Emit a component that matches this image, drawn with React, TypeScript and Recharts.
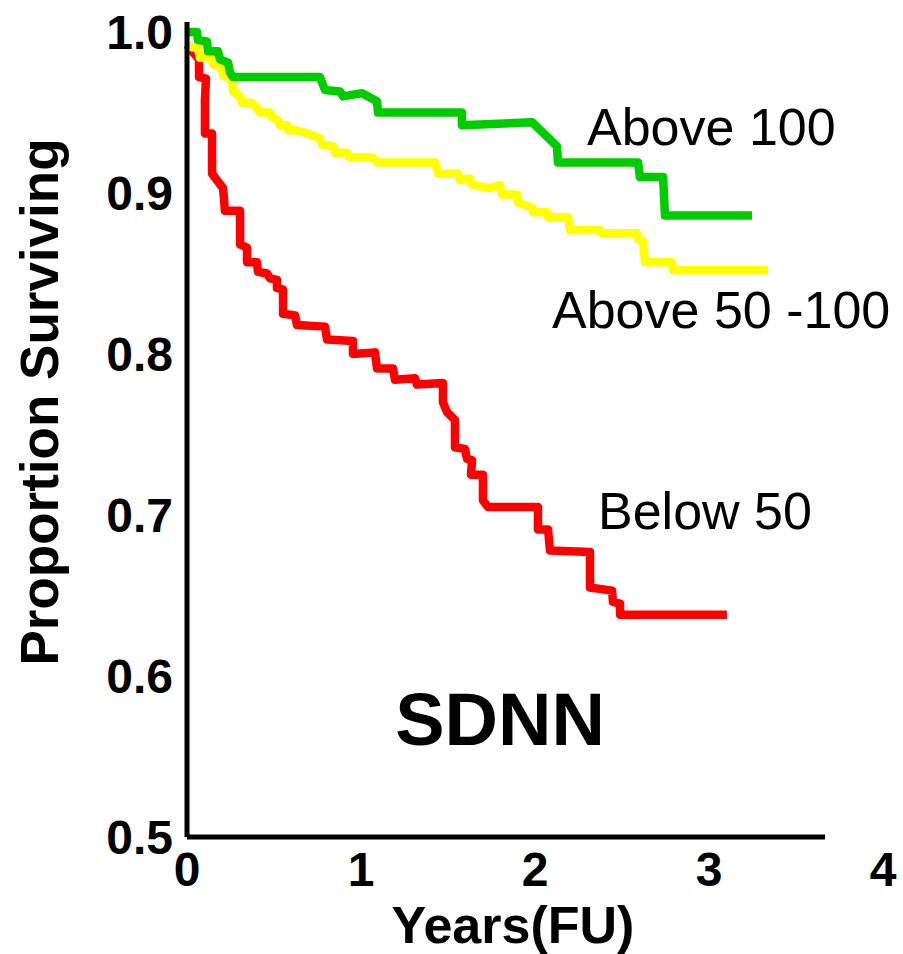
import { LineChart, Line, XAxis, YAxis, ReferenceLine } from "recharts";

// Kaplan-Meier style curves (years, proportion surviving)
const ABOVE_100_X = [0, 0.057, 0.063, 0.115, 0.121, 0.178, 0.19, 0.236, 0.247, 0.264, 0.764, 0.793, 0.879, 0.897, 1.006, 1.092, 1.098, 1.58, 1.58, 1.983, 2.126, 2.132, 2.592, 2.603, 2.736, 2.747, 3.247];
const ABOVE_100_Y = [1.0, 1.0, 0.995, 0.994, 0.988, 0.988, 0.983, 0.981, 0.975, 0.972, 0.972, 0.964, 0.963, 0.96, 0.962, 0.957, 0.95, 0.95, 0.942, 0.944, 0.929, 0.919, 0.919, 0.91, 0.91, 0.886, 0.886];

const MID_X = [0, 0.063, 0.075, 0.144, 0.149, 0.201, 0.207, 0.259, 0.264, 0.305, 0.316, 0.374, 0.42, 0.477, 0.489, 0.523, 0.534, 0.575, 0.58, 0.621, 0.69, 0.764, 0.776, 0.839, 0.851, 0.92, 0.937, 1.069, 1.092, 1.425, 1.443, 1.557, 1.569, 1.626, 1.638, 1.741, 1.799, 1.81, 1.897, 1.902, 1.983, 1.989, 2.069, 2.075, 2.19, 2.201, 2.374, 2.385, 2.586, 2.592, 2.621, 2.632, 2.787, 2.793, 3.339];
const MID_Y = [0.991, 0.99, 0.984, 0.984, 0.98, 0.978, 0.973, 0.971, 0.963, 0.96, 0.956, 0.956, 0.95, 0.95, 0.947, 0.945, 0.942, 0.942, 0.939, 0.939, 0.937, 0.934, 0.93, 0.929, 0.925, 0.925, 0.922, 0.922, 0.919, 0.919, 0.912, 0.912, 0.908, 0.909, 0.905, 0.903, 0.905, 0.899, 0.899, 0.894, 0.891, 0.888, 0.888, 0.885, 0.885, 0.877, 0.877, 0.875, 0.875, 0.871, 0.87, 0.857, 0.857, 0.852, 0.852];

const BELOW_50_X = [0, 0.046, 0.069, 0.069, 0.109, 0.103, 0.103, 0.144, 0.144, 0.172, 0.207, 0.218, 0.305, 0.305, 0.345, 0.345, 0.402, 0.408, 0.46, 0.477, 0.517, 0.517, 0.552, 0.552, 0.621, 0.632, 0.793, 0.805, 0.954, 0.954, 1.08, 1.092, 1.184, 1.195, 1.31, 1.322, 1.471, 1.471, 1.494, 1.54, 1.54, 1.598, 1.609, 1.638, 1.632, 1.701, 1.701, 1.73, 2.017, 2.017, 2.075, 2.086, 2.316, 2.316, 2.443, 2.448, 2.489, 2.489, 3.103];
const BELOW_50_Y = [0.992, 0.986, 0.983, 0.972, 0.971, 0.958, 0.937, 0.937, 0.912, 0.908, 0.903, 0.889, 0.889, 0.868, 0.866, 0.857, 0.857, 0.851, 0.85, 0.847, 0.846, 0.841, 0.84, 0.825, 0.824, 0.818, 0.817, 0.809, 0.808, 0.8, 0.801, 0.791, 0.791, 0.784, 0.785, 0.781, 0.782, 0.77, 0.764, 0.759, 0.742, 0.741, 0.735, 0.734, 0.725, 0.725, 0.709, 0.705, 0.705, 0.691, 0.691, 0.678, 0.677, 0.655, 0.653, 0.646, 0.645, 0.638, 0.638];

const X_TICKS = [0, 1, 2, 3, 4];
const Y_TICKS = [0.5, 0.6, 0.7, 0.8, 0.9, 1.0];
const X_AXIS_END = 3.667;

const FONT = '"Liberation Sans", Arial, sans-serif';

const toPoints = (xs: number[], ys: number[]) => xs.map((x, i) => ({ x, y: ys[i] }));

export default function App() {
  const above100 = toPoints(ABOVE_100_X, ABOVE_100_Y);
  const mid = toPoints(MID_X, MID_Y);
  const below50 = toPoints(BELOW_50_X, BELOW_50_Y);

  const tickStyle = { fontSize: 48, fontWeight: 700, fill: "#000", fontFamily: FONT };

  return (
    <div style={{ position: "absolute", left: 0, top: 0, width: 903, height: 954, background: "#fff" }}>
      <LineChart width={903} height={954} margin={{ top: 22, right: 20, bottom: 0, left: 0 }}>
        <XAxis
          type="number"
          dataKey="x"
          domain={[0, 4]}
          ticks={X_TICKS}
          height={117}
          axisLine={false}
          tickLine={false}
          tickSize={0}
          tickMargin={15}
          tick={tickStyle}
          allowDuplicatedCategory={false}
        />
        <YAxis
          type="number"
          dataKey="y"
          domain={[0.5, 1.0062]}
          ticks={Y_TICKS}
          width={187}
          axisLine={{ stroke: "#000", strokeWidth: 5 }}
          tickLine={false}
          tickSize={0}
          tickMargin={14}
          tick={tickStyle}
          tickFormatter={(v: number) => v.toFixed(1)}
        />
        <ReferenceLine
          segment={[{ x: 0, y: 0.5 }, { x: X_AXIS_END, y: 0.5 }]}
          stroke="#000"
          strokeWidth={5}
          ifOverflow="visible"
        />
        <Line data={below50} dataKey="y" type="linear" stroke="#ff0000" strokeWidth={8.5} strokeLinejoin="round" dot={false} isAnimationActive={false} />
        <Line data={mid} dataKey="y" type="linear" stroke="#ffff00" strokeWidth={8.5} strokeLinejoin="round" dot={false} isAnimationActive={false} />
        <Line data={above100} dataKey="y" type="linear" stroke="#00cc00" strokeWidth={8.5} strokeLinejoin="round" dot={false} isAnimationActive={false} />
      </LineChart>
      <svg width={903} height={954} style={{ position: "absolute", left: 0, top: 0, pointerEvents: "none" }} fontFamily={FONT}>
        <text x={587} y={145} fontSize={52}>Above 100</text>
        <text x={552} y={328} fontSize={52}>Above 50 -100</text>
        <text x={598} y={529} fontSize={52}>Below 50</text>
        <text x={500} y={745} fontSize={74} fontWeight={700} textAnchor="middle">SDNN</text>
        <text x={513} y={943} fontSize={52} fontWeight={700} textAnchor="middle">Years(FU)</text>
        <text x={58} y={402} fontSize={53} fontWeight={700} textAnchor="middle" transform="rotate(-90 58 402)">
          Proportion Surviving
        </text>
      </svg>
    </div>
  );
}
